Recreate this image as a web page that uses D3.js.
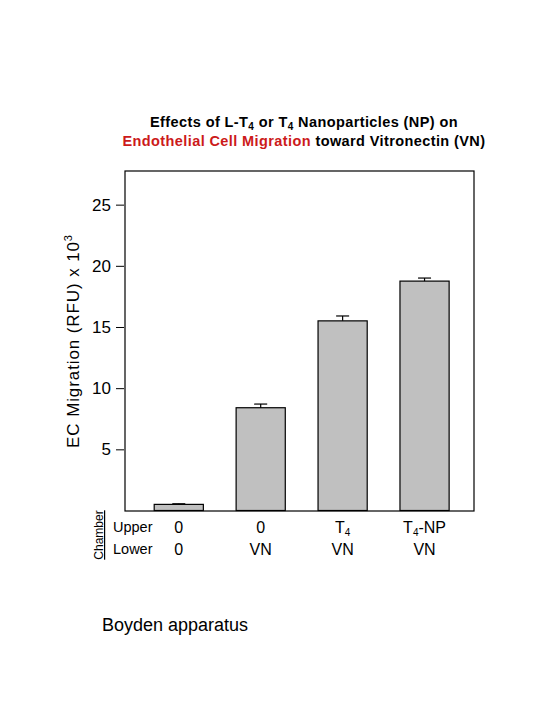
<!DOCTYPE html>
<html>
<head>
<meta charset="utf-8">
<script src="https://cdn.jsdelivr.net/npm/d3@7"></script>
<style>
  body { margin: 0; background: #fff; }
  text { font-family: "Liberation Sans", Arial, sans-serif; }
</style>
</head>
<body>
<svg id="chart"></svg>
<script>
// groups and values
const groups = ["ctrl", "vn", "t4", "t4np"];
const upperLabels = [["0"], ["0"], ["T", "4"], ["T", "4", "-NP"]];
const lowerLabels = ["0", "VN", "VN", "VN"];
const migration = [0.5, 8.4, 15.5, 18.75];
const sem = [0.05, 0.3, 0.4, 0.25];
const yTicks = [5, 10, 15, 20, 25];

const width = 540;
const height = 720;
const frame = { left: 125, right: 474, top: 171, bottom: 511 };

const svg = d3.select("#chart")
    .attr("width", width)
    .attr("height", height);

const x = d3.scaleBand()
    .domain(groups)
    .range([frame.left, frame.right])
    .paddingInner(0.4)
    .paddingOuter(0.33)
    .align(0.54);

const y = d3.scaleLinear()
    .domain([0, 27.75])
    .range([frame.bottom - 0.5, frame.top]);

// title
const title = svg.append("g")
    .attr("font-weight", "bold")
    .attr("font-size", 14.5)
    .attr("letter-spacing", 0.4)
    .attr("text-anchor", "middle");

const t1 = title.append("text").attr("x", 304).attr("y", 127);
t1.append("tspan").text("Effects of L-T");
t1.append("tspan").attr("font-size", 10).attr("dy", 3).text("4");
t1.append("tspan").attr("dy", -3).text(" or T");
t1.append("tspan").attr("font-size", 10).attr("dy", 3).text("4");
t1.append("tspan").attr("dy", -3).text(" Nanoparticles (NP) on");

const t2 = title.append("text").attr("x", 304).attr("y", 146);
t2.append("tspan").attr("fill", "#cc1a1a").text("Endothelial Cell Migration");
t2.append("tspan").text(" toward Vitronectin (VN)");

// bars
svg.selectAll(".bar")
    .data(migration)
    .enter()
    .append("rect")
    .attr("class", "bar")
    .attr("x", (d, i) => x(groups[i]))
    .attr("y", d => y(d))
    .attr("width", x.bandwidth())
    .attr("height", d => y(0) - y(d))
    .attr("fill", "#c0c0c0")
    .attr("stroke", "#000")
    .attr("stroke-width", 1.2);

// error bars (upper only)
const err = svg.selectAll(".err")
    .data(migration)
    .enter()
    .append("g")
    .attr("class", "err")
    .attr("stroke", "#000")
    .attr("stroke-width", 1.2);

err.append("line")
    .attr("x1", (d, i) => x(groups[i]) + x.bandwidth() / 2)
    .attr("x2", (d, i) => x(groups[i]) + x.bandwidth() / 2)
    .attr("y1", d => y(d))
    .attr("y2", (d, i) => y(d + sem[i]));

err.append("line")
    .attr("x1", (d, i) => x(groups[i]) + x.bandwidth() / 2 - 6.5)
    .attr("x2", (d, i) => x(groups[i]) + x.bandwidth() / 2 + 6.5)
    .attr("y1", (d, i) => y(d + sem[i]))
    .attr("y2", (d, i) => y(d + sem[i]));

// frame
svg.append("rect")
    .attr("x", frame.left)
    .attr("y", frame.top)
    .attr("width", frame.right - frame.left)
    .attr("height", frame.bottom - frame.top)
    .attr("fill", "none")
    .attr("stroke", "#000")
    .attr("stroke-width", 1.2);

// y axis
const yAxis = svg.append("g")
    .attr("transform", `translate(${frame.left - 1},0)`)
    .call(d3.axisLeft(y).tickValues(yTicks).tickSize(8).tickPadding(5).tickSizeOuter(0));
yAxis.select(".domain").remove();
yAxis.selectAll("line").attr("stroke-width", 1);
yAxis.selectAll("text")
    .attr("font-size", 17)
    .attr("font-family", "Liberation Sans, Arial, sans-serif")
    .attr("fill", "#000");

// y label
const yl = svg.append("text")
    .attr("transform", "translate(79,341) rotate(-90)")
    .attr("text-anchor", "middle")
    .attr("font-size", 17)
    .attr("letter-spacing", 0.9);
yl.append("tspan").text("EC Migration (RFU) x 10");
yl.append("tspan").attr("font-size", 11).attr("dy", -7).text("3");

// chamber labels
svg.append("text")
    .attr("transform", "translate(103,535) rotate(-90)")
    .attr("text-anchor", "middle")
    .attr("font-size", 12)
    .attr("text-decoration", "underline")
    .text("Chamber");

svg.append("text").attr("x", 113).attr("y", 532).attr("font-size", 14.5).text("Upper");
svg.append("text").attr("x", 113).attr("y", 554).attr("font-size", 14.5).text("Lower");

const up = svg.selectAll(".upper")
    .data(upperLabels)
    .enter()
    .append("text")
    .attr("class", "upper")
    .attr("x", (d, i) => x(groups[i]) + x.bandwidth() / 2)
    .attr("y", 533)
    .attr("text-anchor", "middle")
    .attr("font-size", 16);
up.each(function (parts) {
    const t = d3.select(this);
    t.append("tspan").text(parts[0]);
    if (parts.length > 1) {
        t.append("tspan").attr("font-size", 10).attr("dy", 3).text(parts[1]);
    }
    if (parts.length > 2) {
        t.append("tspan").attr("dy", -3).text(parts[2]);
    }
});

svg.selectAll(".lower")
    .data(lowerLabels)
    .enter()
    .append("text")
    .attr("class", "lower")
    .attr("x", (d, i) => x(groups[i]) + x.bandwidth() / 2)
    .attr("y", 555)
    .attr("text-anchor", "middle")
    .attr("font-size", 16)
    .text(d => d);

svg.append("text")
    .attr("x", 102)
    .attr("y", 631)
    .attr("font-size", 18)
    .text("Boyden apparatus");
</script>
</body>
</html>
